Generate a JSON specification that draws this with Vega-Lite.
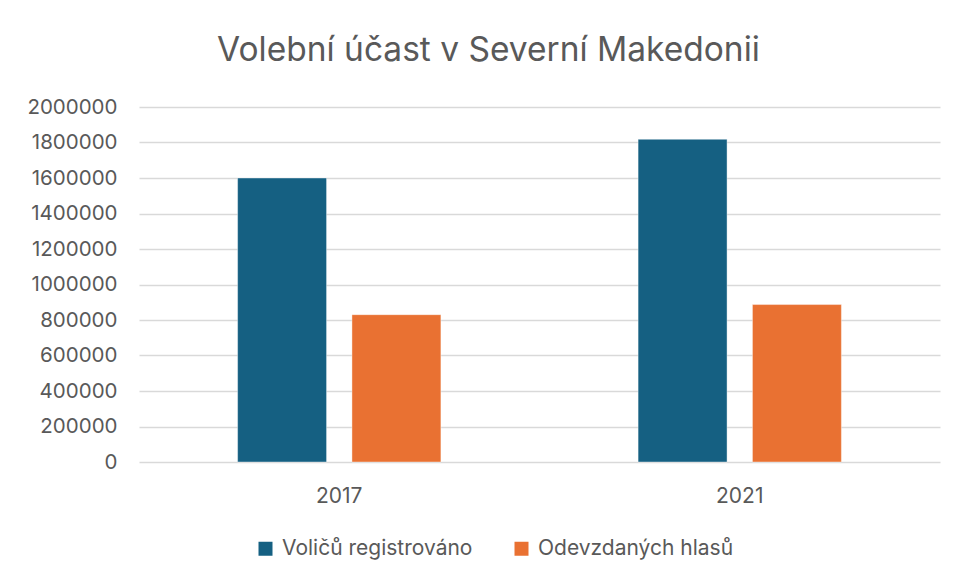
{
  "$schema": "https://vega.github.io/schema/vega-lite/v6.json",
  "width": 801,
  "height": 355,
  "autosize": "none",
  "padding": {"left": 139, "top": 107, "right": 17, "bottom": 119},
  "background": "#ffffff",
  "title": {
    "text": "Volební účast v Severní Makedonii",
    "font": "Liberation Sans Narrow, Inter",
    "fontSize": 33.5,
    "fontWeight": "normal",
    "color": "#595959",
    "anchor": "middle",
    "baseline": "alphabetic",
    "offset": 3,
    "dx": -51
  },
  "data": {
    "values": [
      {"rok": "2017", "serie": "Voličů registrováno", "hodnota": 1600000},
      {"rok": "2017", "serie": "Odevzdaných hlasů", "hodnota": 830000},
      {"rok": "2021", "serie": "Voličů registrováno", "hodnota": 1818000},
      {"rok": "2021", "serie": "Odevzdaných hlasů", "hodnota": 887000}
    ]
  },
  "mark": {"type": "bar", "stroke": "#ffffff", "strokeOpacity": 0.4, "strokeWidth": 1},
  "encoding": {
    "x": {
      "field": "rok",
      "type": "nominal",
      "scale": {"paddingInner": 0.4924, "paddingOuter": 0.2462},
      "axis": {
        "title": null,
        "labelAngle": 0,
        "labelPadding": 23,
        "labelFontSize": 21,
        "ticks": false,
        "domain": false,
        "grid": false
      }
    },
    "xOffset": {
      "field": "serie",
      "type": "nominal",
      "sort": ["Voličů registrováno", "Odevzdaných hlasů"],
      "scale": {"paddingInner": 0.222, "paddingOuter": 0}
    },
    "y": {
      "field": "hodnota",
      "type": "quantitative",
      "scale": {"domain": [0, 2000000], "nice": false},
      "axis": {
        "title": null,
        "values": [0, 200000, 400000, 600000, 800000, 1000000, 1200000, 1400000, 1600000, 1800000, 2000000],
        "format": "d",
        "labelPadding": 22,
        "labelFontSize": 20.5,
        "ticks": false,
        "domain": false,
        "grid": true,
        "gridColor": "#d9d9d9",
        "gridWidth": 1.5
      }
    },
    "color": {
      "field": "serie",
      "type": "nominal",
      "sort": ["Voličů registrováno", "Odevzdaných hlasů"],
      "scale": {"domain": ["Voličů registrováno", "Odevzdaných hlasů"], "range": ["#156082", "#E97132"]},
      "legend": {
        "title": null,
        "orient": "none",
        "direction": "horizontal",
        "legendX": 116,
        "legendY": 431,
        "symbolType": "square",
        "symbolSize": 196,
        "symbolStrokeWidth": 0,
        "labelOffset": 6,
        "columnPadding": 38,
        "labelLimit": 0
      }
    }
  },
  "config": {
    "view": {"stroke": null},
    "font": "Inter",
    "axis": {"labelFont": "Inter", "labelColor": "#595959"},
    "legend": {"labelFont": "Inter", "labelFontSize": 21, "labelColor": "#595959"}
  }
}
